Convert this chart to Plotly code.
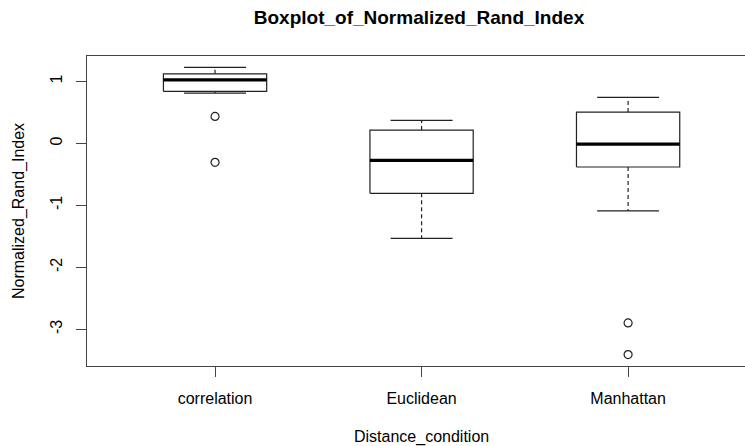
import plotly.graph_objects as go

# ---- data ----
categories = ["correlation", "Euclidean", "Manhattan"]
upper_whisker = [1.226, 0.371, 0.742]
q3 = [1.124, 0.216, 0.506]
median = [1.027, -0.274, -0.010]
q1 = [0.839, -0.806, -0.381]
lower_whisker = [0.813, -1.532, -1.090]
outliers = [[0.435, -0.306], [], [-2.897, -3.408]]

y_ticks = [-3, -2, -1, 0, 1]
y_tick_labels = ["-3", "-2", "-1", "0", "1"]

# ---- styles ----
BOX_HALF = 0.25
CAP_HALF = 0.15
LINE_COL = "#222222"
FONT = "Liberation Sans, Arial, sans-serif"

fig = go.Figure()
positions = list(range(1, len(categories) + 1))

for i, x in enumerate(positions):
    # box rectangle
    fig.add_trace(go.Scatter(
        x=[x - BOX_HALF, x + BOX_HALF, x + BOX_HALF, x - BOX_HALF, x - BOX_HALF],
        y=[q1[i], q1[i], q3[i], q3[i], q1[i]],
        mode="lines", line=dict(color=LINE_COL, width=1.2),
        fill="toself", fillcolor="white", hoverinfo="skip", showlegend=False))
    # median
    fig.add_trace(go.Scatter(
        x=[x - BOX_HALF, x + BOX_HALF], y=[median[i], median[i]],
        mode="lines", line=dict(color="black", width=3.2),
        hoverinfo="skip", showlegend=False))
    # dashed whiskers
    fig.add_trace(go.Scatter(
        x=[x, x, None, x, x],
        y=[q3[i], upper_whisker[i], None, q1[i], lower_whisker[i]],
        mode="lines", line=dict(color=LINE_COL, width=1.2, dash="4px,3px"),
        hoverinfo="skip", showlegend=False))
    # caps
    fig.add_trace(go.Scatter(
        x=[x - CAP_HALF, x + CAP_HALF, None, x - CAP_HALF, x + CAP_HALF],
        y=[upper_whisker[i], upper_whisker[i], None, lower_whisker[i], lower_whisker[i]],
        mode="lines", line=dict(color=LINE_COL, width=1.2),
        hoverinfo="skip", showlegend=False))
    # outliers
    if outliers[i]:
        fig.add_trace(go.Scatter(
            x=[x] * len(outliers[i]), y=outliers[i], mode="markers",
            marker=dict(symbol="circle-open", size=8, color=LINE_COL,
                        line=dict(width=1.2, color=LINE_COL)),
            showlegend=False))

fig.update_layout(
    width=745, height=446,
    margin=dict(l=87, r=0, t=56, b=80),
    paper_bgcolor="white", plot_bgcolor="white",
    font=dict(family=FONT, size=16, color="black"),
    title=dict(text="<b>Boxplot_of_Normalized_Rand_Index</b>",
               font=dict(family=FONT, size=19, color="black"),
               xref="container", yref="container",
               x=419 / 745, y=1 - 17 / 446, xanchor="center", yanchor="middle"),
    xaxis=dict(range=[0.38, 3.566], tickvals=positions, ticktext=categories,
               showgrid=False, zeroline=False, showline=True, mirror=True,
               linecolor="#444444", linewidth=1.2,
               ticks="outside", ticklen=10, tickcolor="#444444", tickwidth=1.2,
               ticklabelstandoff=8),
    yaxis=dict(range=[-3.593, 1.411], tickvals=y_ticks, ticktext=y_tick_labels,
               showgrid=False, zeroline=False, showline=True, mirror=False,
               linecolor="#444444", linewidth=1.2,
               ticks="outside", ticklen=10, tickcolor="#444444", tickwidth=1.2,
               tickangle=-90, ticklabelstandoff=8),
    annotations=[
        dict(text="Distance_condition", xref="paper", yref="paper",
             x=(421 - 87) / 658, y=(366 - 437) / 310, xanchor="center",
             yanchor="middle", showarrow=False, font=dict(size=16)),
        dict(text="Normalized_Rand_Index", xref="paper", yref="paper",
             x=(19 - 87) / 658, y=0.5, xanchor="center", yanchor="middle",
             textangle=-90, showarrow=False, font=dict(size=16)),
    ],
)

fig.write_html("out.html")
